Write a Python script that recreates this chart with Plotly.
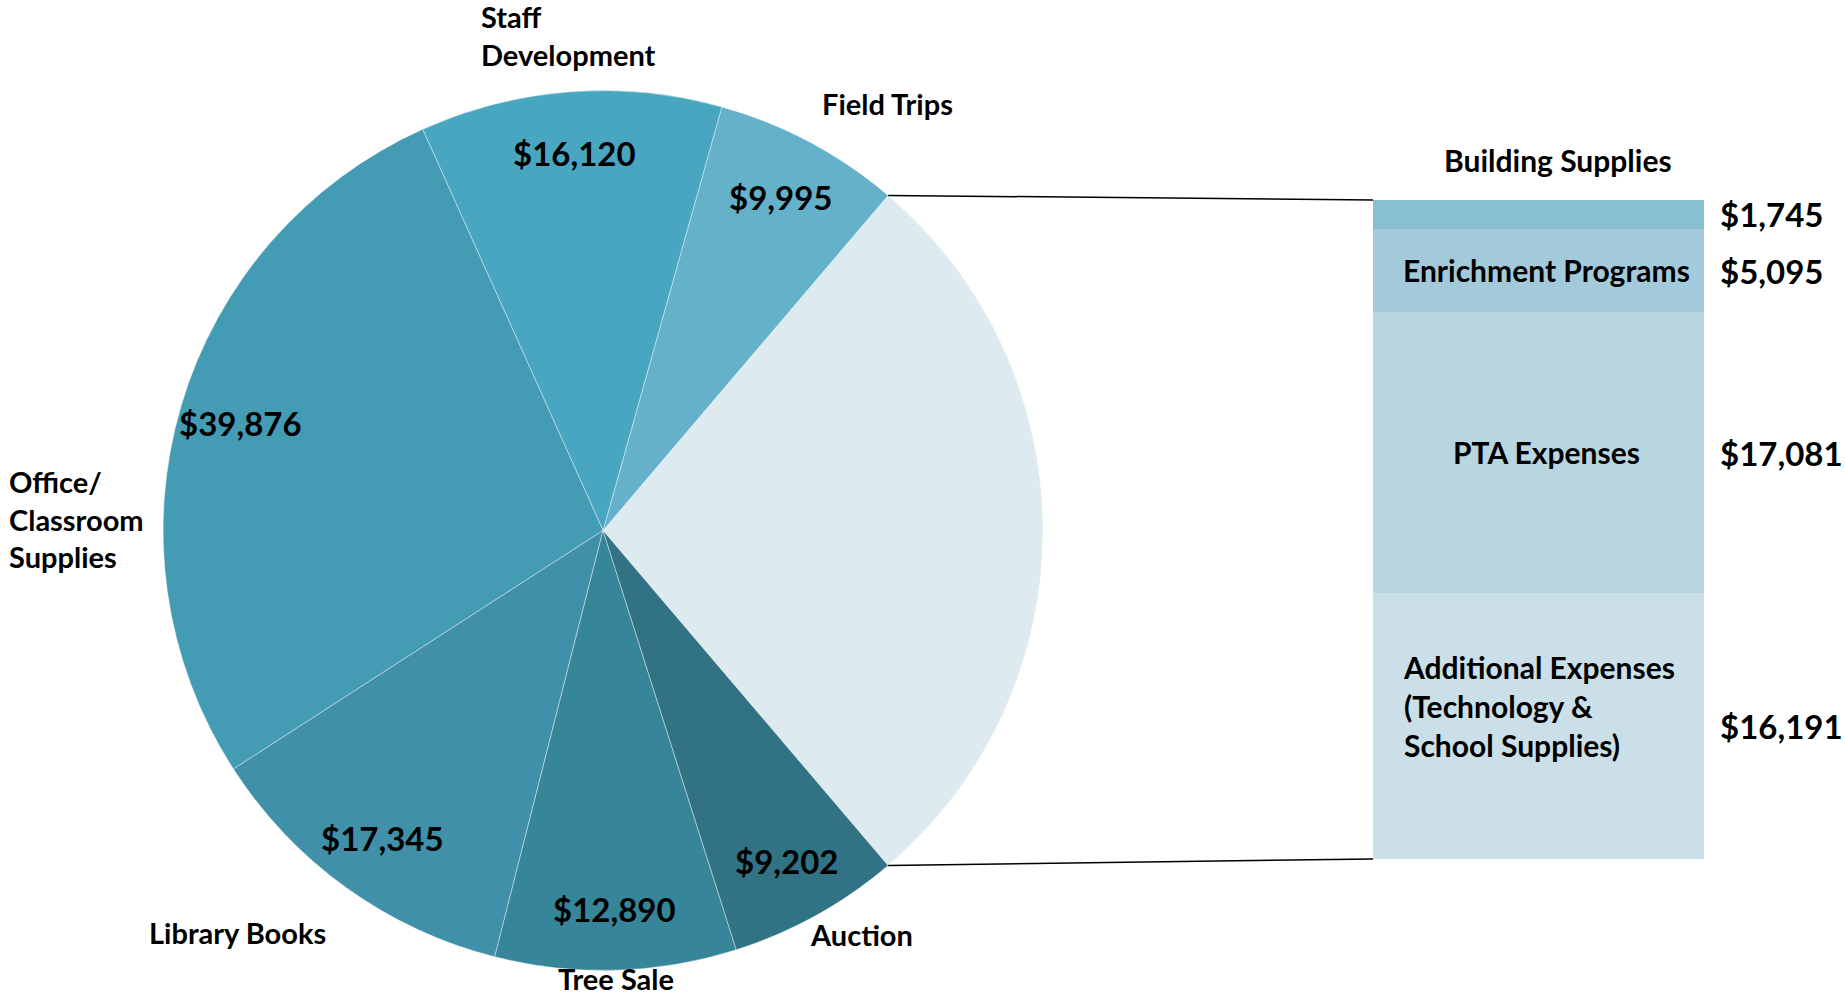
import math
import plotly.graph_objects as go

# ---------------- data ----------------
pie_labels = ["Field Trips", "Staff<br>Development", "Office/<br>Classroom<br>Supplies",
              "Library Books", "Tree Sale", "Auction"]
pie_main_values = [9995, 16120, 39876, 17345, 12890, 9202]
pie_colors = ["#64B1C9", "#48A6C1", "#439BB4", "#3F90A8", "#378598", "#317384"]
other_label = "Other"
other_color = "#DDEAF0"

bar_labels = ["Additional Expenses<br>(Technology &<br>School Supplies)", "PTA Expenses",
              "Enrichment Programs", "Building Supplies"]
bar_values = [16191, 17081, 5095, 1745]
bar_colors = ["#CADFE7", "#B8D6E0", "#A3CADA", "#88C0D2"]

# ---------------- layout tuning (label placement, not data) ----------------
value_radius = 0.86                                   # value labels, fraction of radius
label_radius = [1.05, 1.04, 1.04, 1.07, 0.975, 0.99]  # category labels, fraction of radius
label_angle_shift = [0, 0, 15, 0, 0, -1]              # degrees added to slice mid-angle

# ---------------- derived ----------------
other_total = sum(bar_values)
all_labels = [other_label] + pie_labels
all_values = [other_total] + pie_main_values
all_colors = [other_color] + pie_colors
total = sum(all_values)
frac_other = other_total / total

W, H = 1845, 1001
FONT = "Lato"

pie_dom_x = [0.0884, 0.5653]
pie_dom_y = [0.0305, 0.9096]
bar_dom_x = [0.7442, 1.0]
bar_dom_y = [0.1419, 0.8002]
bar_px_width = 331.0
bar_range_x = [-0.5, -0.5 + (bar_dom_x[1] - bar_dom_x[0]) * W / bar_px_width]

rotation = 90 - 180 * frac_other   # "Other" slice centred on 3 o'clock

fig = go.Figure()

fig.add_trace(go.Pie(
    labels=all_labels, values=all_values, sort=False, direction="counterclockwise",
    rotation=rotation, domain=dict(x=pie_dom_x, y=pie_dom_y),
    marker=dict(colors=all_colors, line=dict(color="rgba(255,255,255,0.5)", width=0.8)),
    textinfo="none", hoverinfo="label+value", showlegend=False,
))

# pie geometry (pixels), same as plotly's own pie scaling
r_px = min((pie_dom_x[1] - pie_dom_x[0]) * W, (pie_dom_y[1] - pie_dom_y[0]) * H) / 2
cx_px = W * (pie_dom_x[0] + pie_dom_x[1]) / 2
cy_px = H * (1 - (pie_dom_y[0] + pie_dom_y[1]) / 2)


def to_paper(rfrac, ang_deg):
    a = math.radians(ang_deg)
    x = cx_px + rfrac * r_px * math.cos(a)
    y = cy_px - rfrac * r_px * math.sin(a)
    return x / W, 1 - y / H


# mid angles of the main slices (counterclockwise after the "Other" slice)
start = 180 * frac_other
mid_angles = []
for v in pie_main_values:
    span = 360 * v / total
    mid_angles.append(start + span / 2)
    start += span

for lab, v, mid, rl, sh in zip(pie_labels, pie_main_values, mid_angles, label_radius, label_angle_shift):
    xv, yv = to_paper(value_radius, mid)
    fig.add_annotation(x=xv, y=yv, xref="paper", yref="paper", text="$" + format(v, ","),
                       showarrow=False, xanchor="center", yanchor="middle",
                       font=dict(family=FONT, size=33, color="black", weight="bold"))
    ang = mid + sh
    xl, yl = to_paper(rl, ang)
    c, s = math.cos(math.radians(ang)), math.sin(math.radians(ang))
    xa = "left" if c > 0.3 else ("right" if c < -0.3 else "center")
    ya = "bottom" if s > 0.3 else ("top" if s < -0.3 else "middle")
    fig.add_annotation(x=xl, y=yl, xref="paper", yref="paper", text=lab,
                       showarrow=False, xanchor=xa, yanchor=ya, align="left",
                       font=dict(family=FONT, size=29, color="black", weight="bold"))

# stacked bar
for lab, val, col in zip(bar_labels, bar_values, bar_colors):
    fig.add_trace(go.Bar(
        x=[0], y=[val], width=[1.0], name=lab.replace("<br>", " "),
        marker=dict(color=col, line=dict(width=0)),
        xaxis="x", yaxis="y", hoverinfo="name+y", showlegend=False,
    ))

mids = []
acc = 0
for v in bar_values:
    mids.append(acc + v / 2)
    acc += v

bar_font = dict(family=FONT, size=30, color="black", weight="bold")
# Additional Expenses (multi-line, left aligned block)
fig.add_annotation(x=0, y=mids[0], xref="x", yref="y", text=bar_labels[0],
                   showarrow=False, align="left", yshift=20, font=bar_font)
# PTA Expenses / Enrichment Programs centred in their segments
for i in (1, 2):
    fig.add_annotation(x=0, y=mids[i], xref="x", yref="y", text=bar_labels[i],
                       showarrow=False, xshift=8, yshift=1, font=bar_font)
# Building Supplies above the thin top segment
fig.add_annotation(x=0, y=other_total, xref="x", yref="y", text=bar_labels[3],
                   showarrow=False, yanchor="bottom", yshift=20, xshift=19, font=bar_font)

# values right of the bar
for v, m in zip(bar_values, mids):
    fig.add_annotation(x=0.5, y=m, xref="x", yref="y", text="$" + format(v, ","),
                       showarrow=False, xanchor="left", xshift=14, yshift=0,
                       font=dict(family=FONT, size=33, color="black", weight="bold"))

# connector lines from the edges of the "Other" slice to the bar corners
edge = 180 * frac_other
for ang, ybar in [(edge, bar_dom_y[1]), (-edge, bar_dom_y[0])]:
    x0, y0 = to_paper(1.0, ang)
    fig.add_shape(type="line", xref="paper", yref="paper",
                  x0=x0, y0=y0, x1=bar_dom_x[0], y1=ybar,
                  line=dict(color="black", width=1.5))

fig.update_layout(
    width=W, height=H, margin=dict(l=0, r=0, t=0, b=0, autoexpand=False),
    paper_bgcolor="white", plot_bgcolor="white", barmode="stack",
    xaxis=dict(domain=bar_dom_x, range=bar_range_x, visible=False, fixedrange=True),
    yaxis=dict(domain=bar_dom_y, range=[0, other_total], visible=False, fixedrange=True),
    font=dict(family=FONT),
)

fig.write_html("out.html")
